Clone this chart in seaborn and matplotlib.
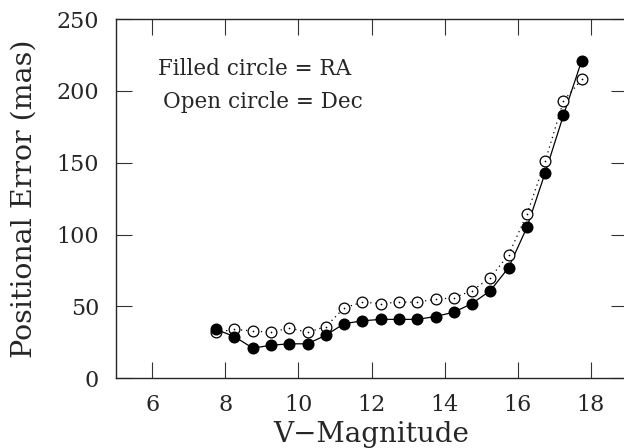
import numpy as np
import pandas as pd
import matplotlib
matplotlib.use('Agg')
import matplotlib.pyplot as plt
import seaborn as sns

vmag = [7.75, 8.25, 8.75, 9.25, 9.75, 10.25, 10.75, 11.25, 11.75, 12.25, 12.75,
        13.25, 13.75, 14.25, 14.75, 15.25, 15.75, 16.25, 16.75, 17.25, 17.75]
err_ra = [34, 29, 21, 23, 24, 24, 30, 38, 40, 41, 41,
          41, 43, 46, 52, 61, 77, 105, 143, 183, 221]
err_dec = [32, 34, 33, 32, 35, 32, 36, 49, 53, 52, 53,
           53, 55, 56, 61, 70, 86, 114, 151, 193, 208]

xticks = [6, 8, 10, 12, 14, 16, 18]
yticks = [0, 50, 100, 150, 200, 250]

df = pd.DataFrame({'vmag': vmag, 'ra': err_ra, 'dec': err_dec})

sns.set_style('ticks')
plt.rcParams['font.family'] = ['DejaVu Serif']
plt.rcParams['xtick.direction'] = 'in'
plt.rcParams['ytick.direction'] = 'in'

fig = plt.figure(figsize=(6.24, 4.48), dpi=100)
ax = fig.add_axes([115.7 / 624, 69.7 / 448, 511.7 / 624, 359.3 / 448])

# open circles (Dec), dotted line
sns.lineplot(data=df, x='vmag', y='dec', ax=ax, color='black', linestyle=(0, (1, 3)),
             linewidth=0.9)
sns.scatterplot(data=df, x='vmag', y='dec', ax=ax, marker='o', s=60,
                facecolor='white', edgecolor='black', linewidth=0.9, zorder=3)
sns.scatterplot(data=df, x='vmag', y='dec', ax=ax, marker='o', s=1.5,
                color='black', linewidth=0, zorder=4)

# filled circles (RA), solid line
sns.lineplot(data=df, x='vmag', y='ra', ax=ax, color='black', linewidth=0.9)
sns.scatterplot(data=df, x='vmag', y='ra', ax=ax, marker='o', s=75,
                color='black', linewidth=0, zorder=5)

ax.set_xlim(5, 19)
ax.set_ylim(0, 250)
ax.set_xticks(xticks)
ax.set_yticks(yticks)
ax.minorticks_off()
ax.tick_params(which='major', length=11.5, width=0.8, top=True, right=True,
               labelsize=16, color='#333333')
ax.tick_params(axis='y', pad=12)
ax.tick_params(axis='x', pad=11)
for sp in ax.spines.values():
    sp.set_linewidth(1.0)

ax.set_xlabel('V\u2212Magnitude', fontsize=20)
ax.set_ylabel('Positional Error (mas)', fontsize=20.5)
ax.xaxis.set_label_coords(0.5, -0.118)
ax.yaxis.set_label_coords(-0.152, 0.5)

ax.text(6.16, 215, 'Filled circle = RA', fontsize=15.5, va='center', ha='left')
ax.text(6.29, 192.5, 'Open circle = Dec', fontsize=15.5, va='center', ha='left')

fig.savefig('out.png', dpi=100)
